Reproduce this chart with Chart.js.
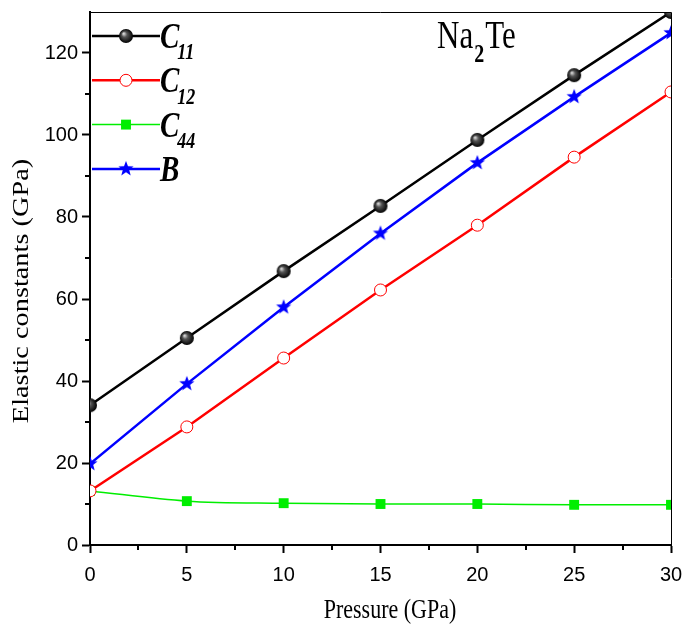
<!DOCTYPE html>
<html><head><meta charset="utf-8">
<script src="https://cdn.jsdelivr.net/npm/chart.js@4/dist/chart.umd.min.js"></script>
<style>html,body{margin:0;padding:0;background:#fff}#wrap{width:684px;height:627px}</style>
</head><body><div id="wrap"><canvas id="c" width="684" height="627"></canvas></div>
<script>
const pressure = [0, 5, 10, 15, 20, 25, 30];
const c11 = [34.1, 50.5, 66.8, 82.7, 98.8, 114.6, 130.0];
const c12 = [13.2, 28.8, 45.6, 62.2, 78.0, 94.6, 110.5];
const c44 = [13.2, 10.7, 10.2, 10.0, 10.0, 9.8, 9.8];
const bulk = [19.8, 39.3, 58.0, 76.0, 93.2, 109.3, 124.9];
const seriesNames = ['C', 'C', 'C', 'B'];
const seriesSubs = ['11', '12', '44', ''];
const xTicks = [0, 5, 10, 15, 20, 25, 30];
const yTicks = [0, 20, 40, 60, 80, 100, 120];

function makeSphere(r) {
  const cv = document.createElement('canvas');
  cv.width = cv.height = 2 * r + 2;
  const g = cv.getContext('2d');
  const c = r + 1;
  const grd = g.createRadialGradient(c - r * 0.35, c - r * 0.35, 0.5, c, c, r);
  grd.addColorStop(0, '#d8d8d8');
  grd.addColorStop(0.35, '#555');
  grd.addColorStop(1, '#000');
  g.fillStyle = grd;
  g.beginPath(); g.arc(c, c, r, 0, Math.PI * 2); g.fill();
  return cv;
}
function makeStar(r, color) {
  const cv = document.createElement('canvas');
  cv.width = cv.height = 2 * r + 2;
  const g = cv.getContext('2d');
  const c = r + 1;
  g.fillStyle = color;
  g.beginPath();
  for (let i = 0; i < 10; i++) {
    const rad = i % 2 === 0 ? r : r * 0.42;
    const a = -Math.PI / 2 + i * Math.PI / 5;
    const px = c + rad * Math.cos(a), py = c + rad * Math.sin(a);
    if (i === 0) g.moveTo(px, py); else g.lineTo(px, py);
  }
  g.closePath(); g.fill();
  return cv;
}
const sphere = makeSphere(7);
const star = makeStar(8, '#0000ff');

const pts = arr => pressure.map((p, i) => ({ x: p, y: arr[i] }));

const decorPlugin = {
  id: 'decor',
  afterDraw(chart) {
    const ctx = chart.ctx;
    const a = chart.chartArea;
    const xs = chart.scales.x, ys = chart.scales.y;
    ctx.save();
    // top & right frame
    ctx.strokeStyle = '#000'; ctx.lineWidth = 1;
    ctx.beginPath();
    ctx.moveTo(a.left, a.top + 0.5); ctx.lineTo(a.right + 0.5, a.top + 0.5); ctx.lineTo(a.right + 0.5, a.bottom);
    ctx.stroke();
    // minor ticks
    ctx.lineWidth = 2;
    ctx.beginPath();
    for (let v = 2.5; v < 30; v += 5) {
      const px = Math.round(xs.getPixelForValue(v));
      ctx.moveTo(px, a.bottom); ctx.lineTo(px, a.bottom + 5);
    }
    for (let v = 10; v < 130; v += 20) {
      const py = Math.round(ys.getPixelForValue(v));
      ctx.moveTo(a.left, py); ctx.lineTo(a.left - 5, py);
    }
    ctx.stroke();
    // axis titles
    ctx.fillStyle = '#000';
    ctx.textAlign = 'center'; ctx.textBaseline = 'alphabetic';
    ctx.font = '22px "Liberation Serif", serif';
    ctx.save(); ctx.translate(390, 618); ctx.scale(1, 1.2);
    ctx.fillText('Pressure (GPa)', 0, 0); ctx.restore();
    ctx.font = '24px "Liberation Serif", serif';
    ctx.save(); ctx.translate(28, 291); ctx.rotate(-Math.PI / 2); ctx.scale(1.18, 1);
    ctx.fillText('Elastic constants (GPa)', 0, 0); ctx.restore();
    // title Na2Te
    ctx.textAlign = 'left';
    ctx.save(); ctx.translate(437, 48); ctx.scale(1, 1.3);
    ctx.font = '31px "Liberation Serif", serif';
    ctx.fillText('Na', 0, 0);
    let w = ctx.measureText('Na').width;
    ctx.font = 'bold 20px "Liberation Serif", serif';
    ctx.fillText('2', w + 1, 11);
    w += ctx.measureText('2').width + 2;
    ctx.font = '31px "Liberation Serif", serif';
    ctx.fillText('Te', w, 0);
    ctx.restore();
    // legend
    chart.data.datasets.forEach((ds, i) => {
      const y = 36 + i * 44.3;
      ctx.strokeStyle = ds.borderColor; ctx.lineWidth = ds.borderWidth;
      ctx.beginPath(); ctx.moveTo(92, y); ctx.lineTo(160, y); ctx.stroke();
      ctx.fillStyle = ds.pointBackgroundColor;
      ctx.strokeStyle = ds.pointBorderColor;
      ctx.lineWidth = ds.pointBorderWidth || 1;
      if (ds.pointStyle === 'circle') {
        ctx.beginPath(); ctx.arc(126, y, ds.pointRadius, 0, Math.PI * 2); ctx.fill(); ctx.stroke();
      } else {
        Chart.helpers.drawPoint(ctx, {
          pointStyle: ds.pointStyle, radius: ds.pointRadius, rotation: 0,
          borderWidth: ds.pointBorderWidth || 0
        }, 126, y);
      }
      ctx.fillStyle = '#000';
      ctx.save(); ctx.translate(160, y + 12); ctx.scale(1, 1.25);
      ctx.font = 'italic bold 29px "Liberation Serif", serif';
      ctx.fillText(seriesNames[i], 0, 0);
      const cw = ctx.measureText(seriesNames[i]).width;
      ctx.font = 'italic bold 18px "Liberation Serif", serif';
      if (seriesSubs[i]) ctx.fillText(seriesSubs[i], cw - 2, 9);
      ctx.restore();
    });
    ctx.restore();
  }
};

const zeroPad = s => { s.paddingLeft = 0; s.paddingRight = 0; s.paddingTop = 0; s.paddingBottom = 0; };

new Chart(document.getElementById('c'), {
  type: 'line',
  data: {
    datasets: [
      { label: 'C11', data: pts(c11), borderColor: '#000000', borderWidth: 2.5,
        pointStyle: sphere, pointRadius: 7, pointBackgroundColor: '#000', pointBorderColor: '#000' },
      { label: 'C12', data: pts(c12), borderColor: '#ff0000', borderWidth: 2.5,
        pointStyle: 'circle', pointRadius: 6, pointBackgroundColor: '#ffffff', pointBorderColor: '#ff0000', pointBorderWidth: 1 },
      { label: 'C44', data: pts(c44), borderColor: '#00ee00', borderWidth: 1.5, cubicInterpolationMode: 'monotone',
        pointStyle: 'rect', pointRadius: 7, pointBackgroundColor: '#00ee00', pointBorderColor: '#00ee00', pointBorderWidth: 0 },
      { label: 'B', data: pts(bulk), borderColor: '#0000ff', borderWidth: 2.5,
        pointStyle: star, pointRadius: 8, pointBackgroundColor: '#0000ff', pointBorderColor: '#0000ff' }
    ]
  },
  options: {
    responsive: false, animation: false, devicePixelRatio: 1,
    layout: { padding: { left: 0, right: 13, top: 12, bottom: 0 } },
    plugins: { legend: { display: false }, tooltip: { enabled: false } },
    scales: {
      x: {
        type: 'linear', min: 0, max: 30,
        afterBuildTicks: s => { s.ticks = xTicks.map(v => ({ value: v })); },
        afterFit: s => { s.height = 82; zeroPad(s); },
        grid: { drawOnChartArea: false, tickLength: 8, tickWidth: 2, tickColor: '#000' },
        border: { color: '#000', width: 2 },
        ticks: { color: '#000', padding: 10, maxRotation: 0,
          font: { family: '"Liberation Sans Narrow", "Arial Narrow", "Liberation Sans", sans-serif', size: 20 } }
      },
      y: {
        type: 'linear', min: 0, max: 130,
        afterBuildTicks: s => { s.ticks = yTicks.map(v => ({ value: v })); },
        afterFit: s => { s.width = 90; zeroPad(s); },
        grid: { drawOnChartArea: false, tickLength: 8, tickWidth: 2, tickColor: '#000' },
        border: { color: '#000', width: 2 },
        ticks: { color: '#000', padding: 4,
          font: { family: '"Liberation Sans Narrow", "Arial Narrow", "Liberation Sans", sans-serif', size: 20 } }
      }
    }
  },
  plugins: [decorPlugin]
});
</script></body></html>
